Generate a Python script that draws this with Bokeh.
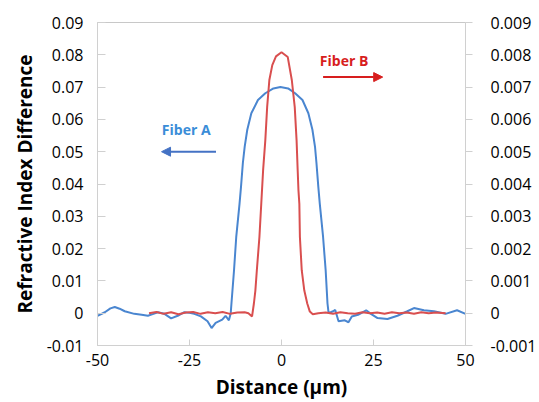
from bokeh.plotting import figure
from bokeh.models import Range1d, LinearAxis, FixedTicker, Label, Arrow, NormalHead
from bokeh.embed import file_html
from bokeh.resources import INLINE

# Fiber A (left axis)
fiber_a_x = [-50, -48, -46.5, -45.3, -44, -42.6, -40, -38, -36.3, -35, -33.6, -31.8, -30, -28.2,
             -26.4, -25, -23.7, -21.9, -20.1, -19.0, -17.9, -16.1, -15.2, -14.3, -13.8, -13.6,
             -12.9, -12.3, -11.4, -11.0, -10.5, -10.0, -9.3, -8.2, -6.4, -4.4, -2.2, -0.3, 1.8,
             3.7, 5.7, 7.3, 8.4, 9.1, 9.5, 10.0, 10.4, 11.3, 12.0, 12.5, 12.8, 14.0, 14.6, 15.5,
             17.2, 18.2, 19.1, 20.8, 23.0, 24.3, 26.1, 28.8, 31.5, 34.2, 36.0, 38.7, 41.4, 44.6,
             47.7, 50]
fiber_a_y = [-0.0008, 0.0003, 0.0015, 0.0019, 0.0014, 0.0006, -0.0002, -0.0005, -0.0008, -0.0003,
             0.0003, -0.0002, -0.0016, -0.0008, 0.0003, 0.0001, -0.0002, -0.001, -0.0025, -0.0046,
             -0.003, -0.002, -0.0008, -0.0022, 0.0, 0.003, 0.0133, 0.0236, 0.0339, 0.0392, 0.0465,
             0.0516, 0.0568, 0.0619, 0.066, 0.0681, 0.0696, 0.070, 0.0696, 0.0681, 0.066, 0.0619,
             0.0568, 0.0516, 0.0465, 0.0392, 0.0339, 0.0236, 0.0133, 0.003, 0.0, 0.0006, 0.001,
             -0.0025, -0.0022, -0.0028, -0.001, -0.0005, 0.0009, -0.0002, -0.0015, -0.0018,
             -0.0008, 0.0006, 0.0016, 0.0009, 0.0006, -0.0002, 0.0009, -0.0002]

# Fiber B (right axis)
fiber_b_x = [-36, -34, -32, -30, -28, -26, -24, -22, -20, -18, -16, -14, -12, -10, -9, -8.0, -7.5,
             -7.1, -6.7, -6.0, -5.5, -5.0, -4.4, -3.9, -3.3, -2.5, -1.5, 0, 1.7, 2.8, 3.6, 4.1,
             4.4, 4.6, 4.85, 5.0, 5.5, 6.2, 7.0, 7.7, 8.5, 10, 12, 14, 16, 18, 20, 22, 24, 26,
             28, 30, 32, 34, 36, 38, 40, 42, 44.6]
fiber_b_y = [0.0, 0.00004, -0.00002, 0.00003, -0.00003, 0.00002, 0.00004, -0.00002, 0.00003,
             0.0, 0.00004, -0.00002, 0.00002, 0.00003, 0.0, -0.0001, 0.0003, 0.0007, 0.00133,
             0.00236, 0.00339, 0.00442, 0.00535, 0.00638, 0.00722, 0.00768, 0.00795, 0.00808,
             0.00793, 0.00722, 0.00638, 0.00535, 0.00442, 0.00382, 0.00339, 0.00236, 0.00133,
             0.0007, 0.0003, 0.00005, -0.00003, 0.0, 0.00002, -0.00002, 0.00003, 0.0, -0.00002,
             0.00003, 0.0, 0.00002, -0.00002, 0.00003, 0.0, 0.00002, -0.00002, 0.00003, 0.0,
             0.00002, 0.0]

x_ticks = [-50, -25, 0, 25, 50]
x_labels = ["-50", "-25", "0", "25", "50"]
left_ticks = [-0.01, 0, 0.01, 0.02, 0.03, 0.04, 0.05, 0.06, 0.07, 0.08, 0.09]
left_labels = ["-0.01", "0", "0.01", "0.02", "0.03", "0.04", "0.05", "0.06", "0.07", "0.08", "0.09"]
right_ticks = [-0.001, 0, 0.001, 0.002, 0.003, 0.004, 0.005, 0.006, 0.007, 0.008, 0.009]
right_labels = ["-0.001", "0", "0.001", "0.002", "0.003", "0.004", "0.005", "0.006", "0.007",
                "0.008", "0.009"]

FONT = "Open Sans"
BLUE = "#4A86D0"
RED = "#D94F4F"
AXIS_GRAY = "#D0D0D0"

p = figure(width=539, height=402, output_backend="svg", toolbar_location=None,
           x_range=Range1d(-50, 50), y_range=Range1d(-0.01, 0.09),
           min_border_left=97, min_border_right=71, min_border_top=22, min_border_bottom=56)
p.extra_y_ranges = {"right": Range1d(-0.001, 0.009)}
p.xgrid.visible = False
p.ygrid.visible = False
p.outline_line_color = "#C8C8C8"
p.background_fill_color = "white"
p.border_fill_color = "white"

p.line(fiber_a_x, fiber_a_y, line_color=BLUE, line_width=2)
p.line(fiber_b_x, fiber_b_y, line_color=RED, line_width=2, y_range_name="right")

# axes
xa = p.xaxis[0]
xa.ticker = FixedTicker(ticks=x_ticks)
xa.major_label_overrides = {t: l for t, l in zip(x_ticks, x_labels)}
xa.axis_label = "Distance (\u03bcm)"

ya = p.yaxis[0]
ya.ticker = FixedTicker(ticks=left_ticks)
ya.major_label_overrides = {t: l for t, l in zip(left_ticks, left_labels)}
ya.axis_label = "Refractive Index Difference"

ra = LinearAxis(y_range_name="right", ticker=FixedTicker(ticks=right_ticks))
ra.major_label_overrides = {t: l for t, l in zip(right_ticks, right_labels)}
p.add_layout(ra, "right")

for ax in (xa, ya, ra):
    ax.axis_line_color = AXIS_GRAY
    ax.major_tick_line_color = AXIS_GRAY
    ax.minor_tick_line_color = None
    ax.major_label_text_font = FONT
    ax.major_label_text_font_size = "16px"
    ax.major_label_text_color = "black"
    ax.axis_label_text_font = FONT
    ax.axis_label_text_font_size = "19px"
    ax.axis_label_text_font_style = "bold"
    ax.axis_label_text_color = "black"

xa.major_tick_in = 6
xa.major_tick_out = 0
xa.major_label_standoff = 8
xa.axis_label_standoff = 5
ya.major_tick_in = 8
ya.major_tick_out = 0
ya.major_label_standoff = 14
ya.axis_label_standoff = 6
ra.major_tick_in = 0
ra.major_tick_out = 7
ra.major_label_standoff = 18

# annotations
p.add_layout(Label(x=-25.9, y=0.0568, text="Fiber A", text_font=FONT, text_font_style="bold",
                   text_font_size="14px", text_color="#3A8DD8", text_align="center",
                   text_baseline="middle"))
p.add_layout(Arrow(x_start=-17.8, y_start=0.050, x_end=-32.6, y_end=0.050,
                   line_color="#4472C4", line_width=2,
                   end=NormalHead(size=9, fill_color="#4472C4", line_color="#4472C4")))
p.add_layout(Label(x=17.0, y=0.0781, text="Fiber B", text_font=FONT, text_font_style="bold",
                   text_font_size="14px", text_color="#D71E1E", text_align="center",
                   text_baseline="middle"))
p.add_layout(Arrow(x_start=11.3, y_start=0.0731, x_end=27.5, y_end=0.0731,
                   line_color="#D71E1E", line_width=2,
                   end=NormalHead(size=9, fill_color="#D71E1E", line_color="#D71E1E")))

open("out.html", "w").write(file_html(p, INLINE))
